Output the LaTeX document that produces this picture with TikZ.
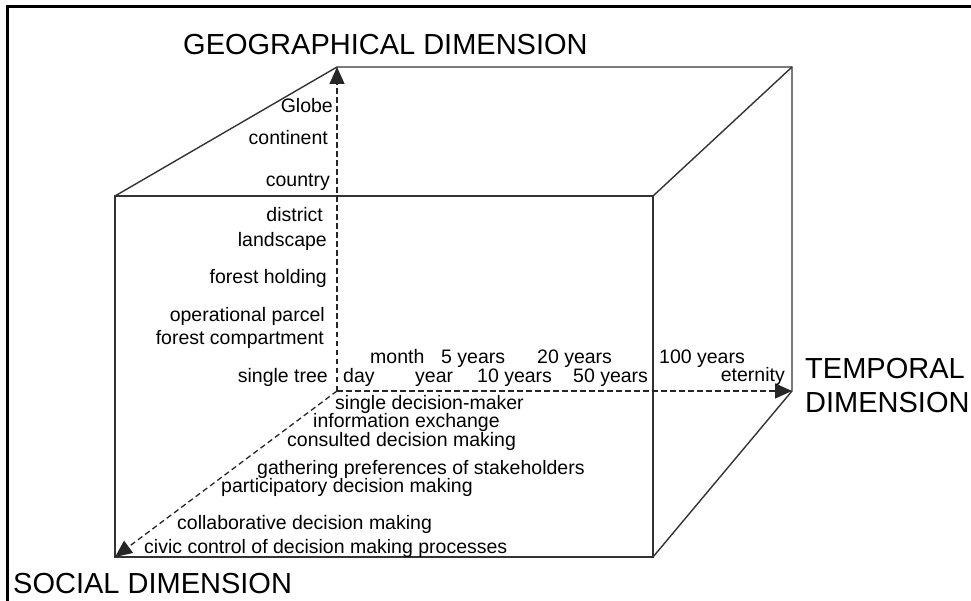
\documentclass[tikz,border=0pt]{standalone}
\usepackage{fontspec}
\setmainfont{Liberation Sans}
\usetikzlibrary{arrows.meta}

\tikzset{
    cubeedge/.style={draw=black!80, line width=1.4pt},
    axisline/.style={draw=black!85, line width=1.3pt,
        dash pattern=on 5.5pt off 3.5pt,
        -{Triangle[length=17pt,width=15pt]}},
    geolabel/.style={anchor=base east, inner sep=0pt,
        font=\fontsize{19.5}{22}\selectfont},
    timelabel/.style={anchor=base west, inner sep=0pt,
        font=\fontsize{19.5}{22}\selectfont},
    sociallabel/.style={anchor=base west, inner sep=0pt,
        font=\fontsize{19.5}{22}\selectfont},
    dimlabel/.style={inner sep=0pt, align=left,
        font=\fontsize{29}{34}\selectfont}
}

\begin{document}
\begin{tikzpicture}[x=1pt,y=-1pt]

\useasboundingbox (0,0) rectangle (971,601);

% Frame, only top and left sides are visible
\draw[line width=3pt] (7,601) -- (7,7) -- (971,7);

% Corners of the cube
\coordinate (ftl) at (115,196);
\coordinate (ftr) at (653,196);
\coordinate (fbr) at (653,557);
\coordinate (fbl) at (115,557);
\coordinate (btl) at (337,67);
\coordinate (btr) at (792,67);
\coordinate (bbr) at (792,391);
\coordinate (origin) at (337,391);

% Visible edges
\draw[cubeedge] (ftl) -- (ftr) -- (fbr) -- (fbl) -- cycle;
\draw[cubeedge] (ftl) -- (btl) -- (btr) -- (bbr) -- (fbr);
\draw[cubeedge] (ftr) -- (btr);

% The three dimensions as dashed arrows
\draw[axisline] (origin) -- (btl);
\draw[axisline] (origin) -- (bbr);
\draw[axisline] (origin) -- (fbl);

% Dimension titles
\node[dimlabel, anchor=base west] (geotitle) at (183,55) {GEOGRAPHICAL DIMENSION};
\node[dimlabel, anchor=west] (temptitle) at (805,386) {TEMPORAL\\DIMENSION};
\node[dimlabel, anchor=base west] (soctitle) at (13,593) {SOCIAL DIMENSION};

% Geographical scale
\node[geolabel] (globe) at (333,113) {Globe};
\node[geolabel] (continent) at (328,145) {continent};
\node[geolabel] (country) at (330,187) {country};
\node[geolabel] (district) at (323,222) {district};
\node[geolabel] (landscape) at (327,247) {landscape};
\node[geolabel] (holding) at (327,284) {forest holding};
\node[geolabel] (parcel) at (325,321) {operational parcel};
\node[geolabel] (compartment) at (324,344) {forest compartment};
\node[geolabel] (tree) at (328,382) {single tree};

% Temporal scale
\node[timelabel] (day) at (343,382) {day};
\node[timelabel] (month) at (370,363) {month};
\node[timelabel] (year) at (415,382) {year};
\node[timelabel] (fiveyears) at (441,363) {5 years};
\node[timelabel] (tenyears) at (477,382) {10 years};
\node[timelabel] (twentyyears) at (537,363) {20 years};
\node[timelabel] (fiftyyears) at (573,382) {50 years};
\node[timelabel] (hundredyears) at (659,363) {100 years};
\node[timelabel, anchor=base east] (eternity) at (785,381) {eternity};

% Social scale
\node[sociallabel] (single) at (335,409) {single decision-maker};
\node[sociallabel] (exchange) at (313,427) {information exchange};
\node[sociallabel] (consulted) at (287,446) {consulted decision making};
\node[sociallabel] (gathering) at (257,474) {gathering preferences of stakeholders};
\node[sociallabel] (participatory) at (221,492) {participatory decision making};
\node[sociallabel] (collaborative) at (177,529) {collaborative decision making};
\node[sociallabel] (civic) at (144,553) {civic control of decision making processes};

\end{tikzpicture}
\end{document}
